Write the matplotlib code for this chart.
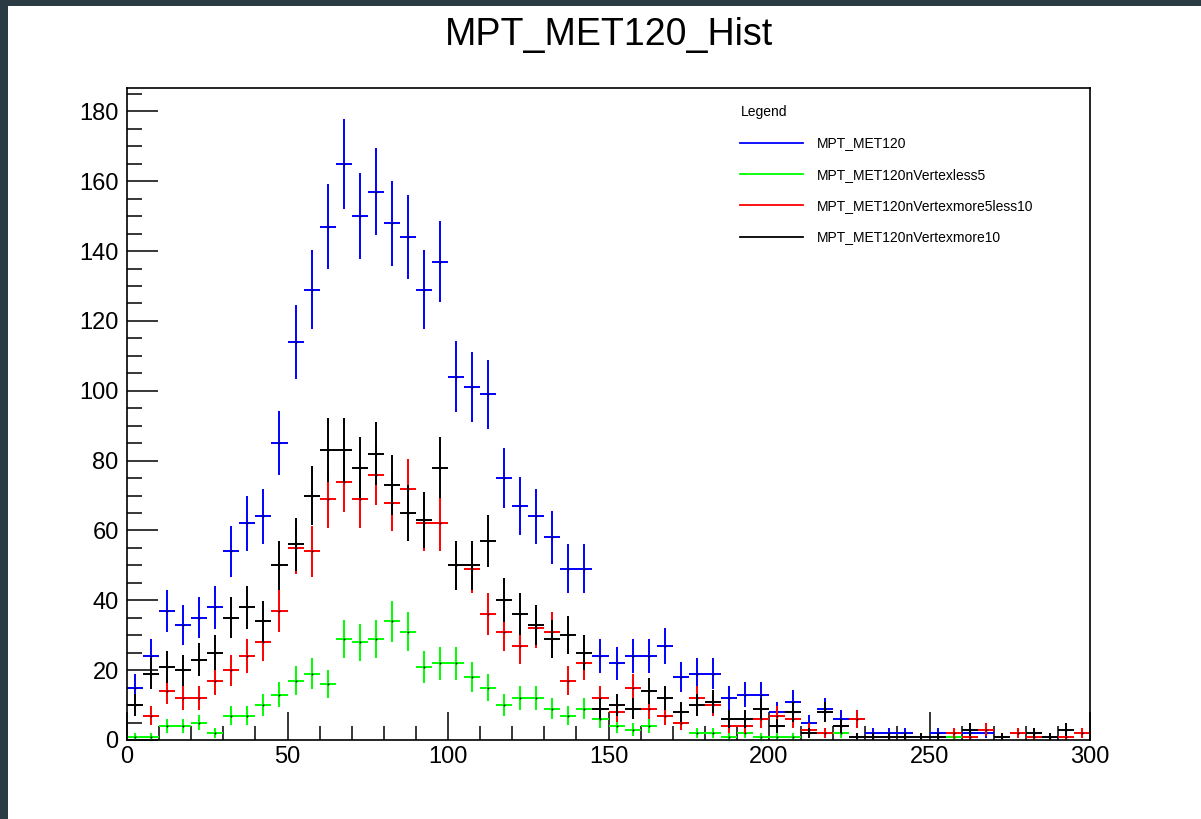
import matplotlib
matplotlib.use("Agg")
import matplotlib.pyplot as plt
import numpy as np
from matplotlib.lines import Line2D
from matplotlib.patches import Rectangle
from matplotlib.ticker import MultipleLocator

plt.rcParams['font.family'] = ['Liberation Sans', 'DejaVu Sans']

# 60 bins of width 5 between 0 and 300
bin_lo = 0.0
bin_w = 5.0

mpt_met120 = [15, 24, 37, 33, 35, 38, 54, 62, 64, 85, 114, 129, 147, 165, 150, 157, 148, 144, 129, 137,
              104, 101, 99, 75, 67, 64, 58, 49, 49, 24, 22, 24, 24, 27, 18, 19, 19, 12, 13, 13,
              8, 11, 5, 9, 6, 6, 2, 2, 2, 0, 2, 1, 2, 2, 0, 2, 2, 1, 0, 0]
nvtx_less5 = [1, 1, 4, 4, 5, 2, 7, 7, 10, 13, 17, 19, 16, 29, 28, 29, 34, 31, 21, 22,
              22, 18, 15, 10, 12, 12, 9, 7, 9, 6, 4, 3, 4, 7, 5, 2, 2, 1, 2, 1,
              1, 1, 0, 0, 2, 0, 0, 0, 0, 0, 0, 1, 1, 0, 0, 0, 0, 0, 0, 0]
nvtx_5to10 = [0, 7, 14, 12, 12, 17, 20, 24, 28, 37, 55, 54, 69, 74, 69, 76, 68, 72, 62, 62,
              50, 49, 36, 31, 27, 32, 31, 17, 22, 12, 8, 15, 9, 7, 5, 12, 10, 4, 4, 6,
              7, 6, 3, 2, 4, 6, 1, 1, 1, 0, 0, 2, 1, 3, 0, 2, 1, 0, 1, 2]
nvtx_more10 = [10, 19, 21, 20, 23, 25, 35, 38, 34, 50, 56, 70, 83, 83, 78, 82, 73, 65, 63, 78,
               50, 50, 57, 40, 36, 33, 29, 30, 25, 9, 10, 9, 14, 12, 8, 10, 11, 6, 6, 9,
               4, 8, 2, 8, 4, 1, 1, 1, 1, 1, 1, 0, 3, 0, 1, 0, 2, 1, 3, 0]

names = ["MPT_MET120", "MPT_MET120nVertexless5", "MPT_MET120nVertexmore5less10", "MPT_MET120nVertexmore10"]
colors = ["#0000ff", "#00ff00", "#ff0000", "#000000"]
series = [mpt_met120, nvtx_less5, nvtx_5to10, nvtx_more10]

fig = plt.figure(figsize=(12.01, 8.19), dpi=100)
fig.patch.set_facecolor("#2b3b44")
fig.add_artist(Rectangle((8 / 1201, 0), 1, 1 - 6 / 819, transform=fig.transFigure,
                         facecolor="white", edgecolor="none", zorder=0))

ax = fig.add_axes([127 / 1201, 1 - 740 / 819, (1090 - 127) / 1201, (740 - 88) / 819])
ax.set_facecolor("white")

for vals, c in zip(series, colors):
    y = np.array(vals, dtype=float)
    x = bin_lo + bin_w * (np.arange(len(y)) + 0.5)
    m = y > 0
    ax.errorbar(x[m], y[m], xerr=bin_w / 2, yerr=np.sqrt(y[m]), fmt="none",
                ecolor=c, elinewidth=1.4, capsize=0)
    ax.plot(x[m], y[m], "s", color="black", ms=1.2, mew=0)

ax.set_xlim(0, 300)
ax.set_ylim(0, 186.7)
ax.xaxis.set_major_locator(MultipleLocator(50))
ax.xaxis.set_minor_locator(MultipleLocator(10))
ax.yaxis.set_major_locator(MultipleLocator(20))
ax.yaxis.set_minor_locator(MultipleLocator(5))
ax.tick_params(which="both", direction="in", top=False, right=False, labelsize=17, width=1.1)
ax.tick_params(axis="y", which="major", length=22, pad=6)
ax.tick_params(axis="y", which="minor", length=11)
ax.tick_params(axis="x", which="major", length=20, pad=4)
ax.tick_params(axis="x", which="minor", length=10)
for s in ax.spines.values():
    s.set_linewidth(1.2)

fig.text(609 / 1201, 1 - 35 / 819, "MPT_MET120_Hist", ha="center", va="center", fontsize=27)

handles = [Line2D([], [], color=c, lw=1.3) for c in colors]
leg = ax.legend(handles, names, title="Legend", loc="upper left", bbox_to_anchor=(0.624, 0.993),
                frameon=False, fontsize=10, title_fontsize=10, handlelength=4.5,
                handletextpad=1.0, labelspacing=1.25, alignment="left")

fig.savefig("out.png", dpi=100, facecolor=fig.get_facecolor())
